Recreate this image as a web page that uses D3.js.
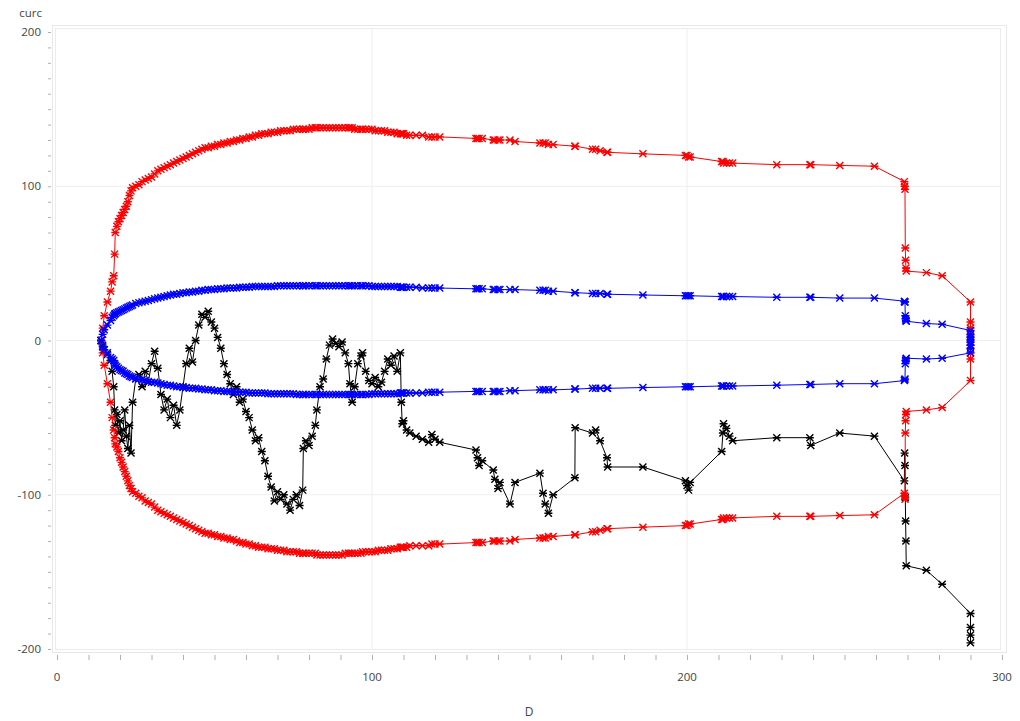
<!DOCTYPE html>
<html>
<head>
<meta charset="utf-8">
<script src="https://cdn.jsdelivr.net/npm/d3@7"></script>
<style>
  body { margin: 0; background: #fff; }
  text { font-family: "Open Sans", "DejaVu Sans", sans-serif; }
</style>
</head>
<body>
<div id="chart"></div>
<script>
// observations (D) and the cumulative curve with its limits
const D = [
  14, 14.5, 15, 16, 17, 17.5, 18, 18.3, 18.5, 19,
  19.5, 20, 20.5, 21, 21.5, 22, 22.5, 23, 23.5, 24,
  25, 26, 27, 28, 29, 30, 31, 32, 33, 34,
  35, 36, 37, 38, 39, 40, 41, 42, 43, 44,
  45, 46, 47, 48, 49, 50, 51, 52, 53, 54,
  55, 56, 57, 58, 59, 60, 61, 62, 63, 64,
  65, 66, 67, 68, 69, 70, 71, 72, 73, 74,
  75, 76, 77, 78, 78.2, 79, 80, 81, 82, 82.5,
  83.5, 84.5, 85.5, 86.5, 87.5, 88.5, 89.5, 90.5, 91.5, 92.5,
  93, 93.7, 94.5, 95.5, 96.5, 97, 98, 99, 100, 101,
  102, 103, 104, 105, 106, 107, 108, 109, 109.3, 109.6,
  110, 111, 112, 114, 116, 118, 119, 120, 121.5, 133,
  133.5, 134, 135, 138.5, 139, 140, 140.6, 143.8, 145.4, 153.3,
  154.3, 155, 156, 157.5, 164.4, 164.5, 170, 171, 172.4, 174.6,
  174.8, 186, 199.5, 200, 200.5, 201, 211, 211.4, 211.6, 212.5,
  213.5, 214.5, 228.5, 239, 239.3, 248.5, 259.5, 269, 269.1, 269.2,
  269.3, 269.4, 269.5, 269.6, 276, 281, 290, 290, 290, 290
]

const curc = [
  0, -3, -6, -9, -13, -20, -30, -45, -55, -48,
  -60, -52, -65, -58, -45, -62, -70, -55, -73, -40,
  -25, -22, -30, -20, -27, -15, -7, -18, -35, -45,
  -38, -50, -42, -55, -45, -30, -15, -5, -14, 0,
  10, 17, 15, 19, 12, 8, 2, -5, -15, -22,
  -28, -35, -30, -40, -38, -46, -50, -58, -65, -63,
  -72, -78, -88, -95, -104, -98, -103, -100, -106, -110,
  -103, -100, -107, -97, -70, -65, -68, -62, -55, -45,
  -30, -25, -12, -3, 1, -2, -4, -1, -8, -15,
  -28, -40, -30, -15, -10, -8, -20, -26, -28, -24,
  -30, -27, -20, -12, -16, -10, -20, -8, -40, -54,
  -52, -58, -60, -62, -64, -66, -61, -64, -66, -71,
  -76, -81, -78, -84, -90, -96, -92, -106, -92, -86,
  -99, -106, -112, -100, -89, -56.5, -60, -58, -65, -76,
  -82, -82, -91, -94, -97, -92, -72, -60, -54, -57,
  -62, -65, -63, -63, -68, -60, -62, -91, -73, -81,
  -102, -117, -130, -146, -149, -158, -177, -186, -191, -196
]

// outer limits (red)
const ucl = [
  0, 8, 16, 25, 32, 38, 42, 56, 70, 74,
  77, 79, 81, 83, 85, 87, 90, 94, 97, 99,
  100, 101, 103, 104, 105, 106, 108, 110, 111, 112,
  113, 114, 115, 116, 117, 118, 119, 120, 121, 122,
  123, 124, 125, 125, 126, 126, 127, 127, 128, 128,
  129, 129, 130, 130, 131, 131, 132, 132, 133, 133,
  134, 134, 134, 135, 135, 135, 136, 136, 136, 136,
  137, 137, 137, 137, 137, 137, 137, 138, 138, 138,
  138, 138, 138, 138, 138, 138, 138, 138, 138, 138,
  138, 138, 137, 137, 137, 137, 137, 137, 137, 136,
  136, 136, 136, 135, 135, 135, 134, 134, 134, 134,
  134, 133, 133, 133, 133, 132, 132, 132, 132, 131,
  131, 131, 131, 130, 130, 130, 130, 130, 129, 128,
  128, 128, 127, 127, 126, 126, 124, 124, 123, 122,
  122, 121, 120, 120, 119, 119, 116, 116, 115, 115,
  115, 115, 114, 114, 114, 113.5, 113, 103, 100, 98,
  60, 52, 47, 45, 44, 42, 25, 12, 8, 3
]
const lcl = [
  0, -8, -16, -28, -40, -50, -58, -63, -67, -69,
  -72, -76, -79, -82, -85, -88, -91, -94, -96, -98,
  -99, -101, -102, -104, -105, -106, -108, -110, -111, -112,
  -113, -114, -115, -116, -117, -118, -119, -120, -121, -122,
  -123, -124, -125, -125, -126, -126, -127, -127, -128, -128,
  -129, -129, -130, -131, -131, -132, -132, -133, -133, -134,
  -134, -134, -135, -135, -135, -136, -136, -136, -137, -137,
  -137, -137, -138, -138, -138, -138, -138, -138, -138, -139,
  -139, -139, -139, -139, -139, -139, -139, -139, -138, -138,
  -138, -138, -138, -138, -138, -137, -137, -137, -137, -137,
  -136, -136, -136, -136, -135, -135, -135, -134, -134, -134,
  -134, -134, -133, -133, -133, -133, -132, -132, -132, -131,
  -131, -131, -131, -130, -130, -130, -130, -130, -129, -128,
  -128, -128, -127, -127, -126, -126, -124, -124, -123, -122,
  -122, -121, -120, -120, -119, -119, -116, -116, -115, -115,
  -115, -115, -114, -114, -114, -113.5, -113, -99, -101, -103,
  -60, -52, -48, -46, -45, -43.5, -26, -12, -8, -3
]

// inner limits (blue)
const uwl = [
  0, 4, 7, 10, 13, 15, 16, 17, 17.5, 18,
  18.5, 19, 19.5, 20, 20.5, 21, 21.5, 22, 22.5, 23,
  24, 24.5, 25, 25.5, 26, 26.5, 27, 27.5, 28, 28.5,
  29, 29.5, 30, 30, 30.5, 31, 31, 31.5, 31.5, 32,
  32, 32.5, 32.5, 33, 33, 33, 33.5, 33.5, 33.5, 34,
  34, 34, 34, 34.5, 34.5, 34.5, 34.5, 35, 35, 35,
  35, 35, 35, 35, 35, 35.5, 35.5, 35.5, 35.5, 35.5,
  35.5, 35.5, 35.5, 35.5, 35.5, 35.5, 35.5, 35.5, 35.5, 35.5,
  35.5, 35.5, 35.5, 35.5, 35.5, 35.5, 35.5, 35.5, 35.5, 35.5,
  35.5, 35.5, 35.5, 35.5, 35.5, 35.5, 35.5, 35.5, 35, 35,
  35, 35, 35, 35, 35, 35, 35, 34.5, 34.5, 34.5,
  34.5, 34.5, 34.5, 34.5, 34, 34, 34, 34, 34, 33.5,
  33.5, 33.5, 33.5, 33, 33, 33, 33, 33, 33, 32.5,
  32.5, 32.5, 32, 32, 31, 31, 30.5, 30.5, 30.5, 30,
  30, 29.5, 29, 29, 29, 29, 28.5, 28.5, 28.5, 28.5,
  28.5, 28.5, 28, 28, 28, 27.5, 27.5, 25.5, 25, 25,
  16, 14, 13, 12.5, 11, 10.5, 6.5, 4, 2, 0.5
]
const lwl = [
  0, -4, -6, -8, -11, -12, -13, -15, -16, -17,
  -18, -19, -19.5, -20, -21, -21.5, -22, -23, -23.5, -24,
  -24.5, -25, -25.5, -26, -26.5, -27, -27, -27.5, -28, -28.5,
  -29, -29, -29.5, -30, -30, -30.5, -30.5, -31, -31, -31,
  -31.5, -31.5, -32, -32, -32, -32.5, -32.5, -32.5, -33, -33,
  -33, -33, -33.5, -33.5, -33.5, -33.5, -34, -34, -34, -34,
  -34, -34, -34.5, -34.5, -34.5, -34.5, -34.5, -34.5, -34.5, -34.5,
  -34.5, -35, -35, -35, -35, -35, -35, -35, -35, -35,
  -35, -35, -35, -35, -35, -35, -35, -35, -35, -35,
  -35, -35, -35, -35, -35, -35, -35, -35, -34.5, -34.5,
  -34.5, -34.5, -34.5, -34.5, -34.5, -34.5, -34.5, -34, -34, -34,
  -34, -34, -34, -34, -34, -33.5, -33.5, -33.5, -33.5, -33,
  -33, -33, -33, -33, -33, -33, -33, -32.5, -32.5, -32,
  -32, -32, -32, -32, -31.5, -31.5, -31, -31, -31, -31,
  -31, -30.5, -30, -30, -30, -30, -29.5, -29.5, -29.5, -29.5,
  -29.5, -29.5, -29, -28.5, -28.5, -28, -28, -26, -25.5, -25,
  -15, -13, -12, -11.5, -12, -11.5, -8, -5, -3, -1
]

const xTicks = [0, 100, 200, 300]
const yTicks = [-200, -100, 0, 100, 200]

const width = 1020, height = 721

const svg = d3.select('#chart')
  .append('svg')
    .attr('width', width)
    .attr('height', height)

svg.append('rect')
  .attr('width', width).attr('height', height)
  .attr('fill', '#fff')

const x = d3.scaleLinear().domain([0, 300]).range([57, 1002])
const y = d3.scaleLinear().domain([-200, 200]).range([649, 32])

// frame (double light line like the original)
svg.append('rect')
  .attr('x', 52.5).attr('y', 25.5)
  .attr('width', 954).attr('height', 627)
  .attr('fill', 'none').attr('stroke', '#e8e8e8')
svg.append('rect')
  .attr('x', 55.5).attr('y', 28.5)
  .attr('width', 945).attr('height', 621)
  .attr('fill', 'none').attr('stroke', '#ececec')

// grid
svg.append('g')
  .selectAll('line')
  .data([100, 200])
  .enter()
  .append('line')
    .attr('x1', d => x(d)).attr('x2', d => x(d))
    .attr('y1', 29).attr('y2', 649)
    .attr('stroke', '#eeeeee')
svg.append('g')
  .selectAll('line')
  .data([-100, 0, 100])
  .enter()
  .append('line')
    .attr('x1', 56).attr('x2', 1000)
    .attr('y1', d => y(d)).attr('y2', d => y(d))
    .attr('stroke', '#eeeeee')

// axes
const yAxis = svg.append('g')
  .attr('transform', 'translate(51,0)')
  .call(d3.axisLeft(y).ticks(40).tickSize(3).tickFormat(''))
yAxis.select('.domain').remove()
yAxis.selectAll('line').attr('stroke', '#b0b0b0')

const xAxis = svg.append('g')
  .attr('transform', 'translate(0,655)')
  .call(d3.axisBottom(x).ticks(30).tickSize(5).tickFormat(''))
xAxis.select('.domain').remove()
xAxis.selectAll('line').attr('stroke', '#b0b0b0')

svg.append('g')
  .selectAll('text')
  .data(yTicks)
  .enter()
  .append('text')
    .attr('x', 41)
    .attr('y', d => y(d))
    .attr('dy', '0.35em')
    .attr('text-anchor', 'end')
    .style('font-size', '11.5px')
    .style('fill', '#444')
    .text(d => d)

svg.append('g')
  .selectAll('text')
  .data(xTicks)
  .enter()
  .append('text')
    .attr('x', d => x(d))
    .attr('y', 681)
    .attr('text-anchor', 'middle')
    .style('font-size', '11.5px')
    .style('fill', '#444')
    .text(d => d)

svg.append('text')
  .attr('x', 42).attr('y', 17)
  .attr('text-anchor', 'end')
  .style('font-size', '11.5px')
  .style('fill', '#444')
  .text('curc')

svg.append('text')
  .attr('x', 529).attr('y', 716)
  .attr('text-anchor', 'middle')
  .style('font-size', '12px')
  .style('fill', '#444')
  .text('D')

// series: cross marker with a bar at each observation
const marker = 'M-3.5,-3.5L3.5,3.5M-3.5,3.5L3.5,-3.5M-4,0L4,0'

function drawSeries(values, color) {
  const pts = D.map((d, i) => [d, values[i]])
  const g = svg.append('g')
  g.append('path')
    .datum(pts)
    .attr('fill', 'none')
    .attr('stroke', color)
    .attr('stroke-width', 1)
    .attr('d', d3.line().x(d => x(d[0])).y(d => y(d[1])))
  g.selectAll('path.mk')
    .data(pts)
    .enter()
    .append('path')
      .attr('class', 'mk')
      .attr('transform', d => 'translate(' + x(d[0]) + ',' + y(d[1]) + ')')
      .attr('d', marker)
      .attr('fill', 'none')
      .attr('stroke', color)
      .attr('stroke-width', 1.4)
}

drawSeries(curc, '#000')
drawSeries(ucl, '#ff0000')
drawSeries(lcl, '#ff0000')
drawSeries(uwl, '#0000ff')
drawSeries(lwl, '#0000ff')
</script>
</body>
</html>
